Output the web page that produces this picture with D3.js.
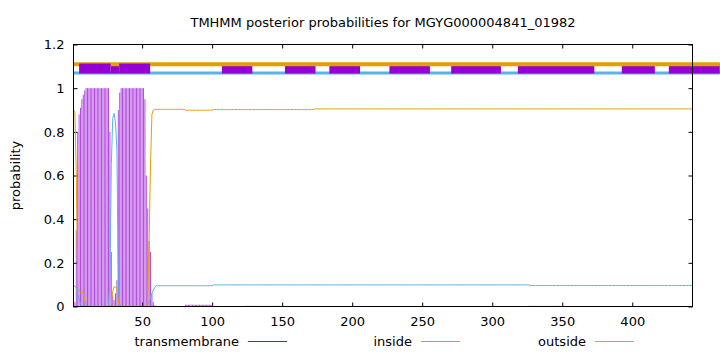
<html>
  <head>
    <meta charset="utf-8">
    <style>
      body { margin: 0; background: #fff; }
      text { font-family: "DejaVu Sans", sans-serif; font-size: 13px; fill: #000; }
      .tick line { stroke: #000; }
    </style>
    <script src="https://cdnjs.cloudflare.com/ajax/libs/d3/7.8.5/d3.min.js" type="text/javascript"></script>
  </head>
  <body>
    <script>
      var title = "TMHMM posterior probabilities for MGYG000004841_01982";
      var seqLength = 443;
      var xTicks = [50, 100, 150, 200, 250, 300, 350, 400];
      var yTicks = [0, 0.2, 0.4, 0.6, 0.8, 1, 1.2];

      // per residue values for residues 1..60
      var tmHead = [0.005, 0.02, 0.35, 0.8, 0.88, 0.91, 0.95, 0.97, 0.99, 1,
                    1, 1, 1, 1, 1, 1, 1, 1, 1, 1,
                    1, 1, 1, 1, 1, 1, 0.8, 0.25, 0.05, 0.03,
                    0.06, 0.12, 0.9, 0.98, 1, 1, 1, 1, 1, 1,
                    1, 1, 1, 1, 1, 1, 1, 1, 1, 1,
                    1, 0.95, 0.6, 0.45, 0.3, 0.25, 0.06, 0.02, 0.005, 0];
      var insideHead = [0.095, 0.093, 0.085, 0.06, 0.03, 0.01, 0.003, 0, 0, 0,
                        0, 0, 0, 0, 0, 0, 0, 0, 0, 0,
                        0, 0, 0, 0, 0, 0, 0.12, 0.65, 0.86, 0.885,
                        0.84, 0.72, 0.08, 0.01, 0, 0, 0, 0, 0, 0,
                        0, 0, 0, 0, 0, 0, 0, 0, 0, 0,
                        0, 0, 0, 0.005, 0.02, 0.04, 0.06, 0.075, 0.088, 0.095];
      var outsideHead = [0.9, 0.89, 0.6, 0.08, 0.07, 0.065, 0.065, 0.06, 0.03, 0.005,
                         0, 0, 0, 0, 0, 0, 0, 0, 0, 0,
                         0, 0, 0, 0, 0, 0, 0, 0.01, 0.07, 0.09,
                         0.09, 0.08, 0.02, 0, 0, 0, 0, 0, 0, 0,
                         0, 0, 0, 0, 0, 0, 0, 0, 0, 0,
                         0, 0, 0, 0.02, 0.3, 0.65, 0.88, 0.9, 0.903, 0.903];
      // runs for the rest: [from, to, value]
      var tmTail = [[61, 80, 0], [81, 100, 0.008], [101, 122, 0], [123, 148, 0.003],
                    [149, 326, 0], [327, 348, 0.003], [349, 443, 0]];
      var insideTail = [[61, 100, 0.095], [101, 326, 0.099], [327, 443, 0.096]];
      var outsideTail = [[61, 80, 0.903], [81, 100, 0.899], [101, 172, 0.902], [173, 443, 0.905]];

      // top tracks (residue ranges)
      var outsideTrack = [[1, 462.5]];
      var insideTrack = [[1, 462.5]];
      var tmBoxes = [[5, 27.5], [33.6, 55.7]];
      var tmDashes = [[27.5, 33.6], [107, 128.7], [152, 173.8], [183.7, 205.6], [226.6, 255.5],
                      [270.7, 306.2], [318.3, 372.9], [392.5, 416.1], [426.1, 462.5]];

      var legendItems = ["transmembrane", "inside", "outside"];
      var colors = { transmembrane: "#9400d3", inside: "#56b4e9", outside: "#e69f00" };

      function expand(head, tail) {
        var out = head.map(function(v, i) { return { pos: i + 1, v: v }; });
        tail.forEach(function(r) {
          for (var p = r[0]; p <= r[1]; p++) out.push({ pos: p, v: r[2] });
        });
        return out;
      }
      var tm = expand(tmHead, tmTail);
      var inside = expand(insideHead, insideTail);
      var outside = expand(outsideHead, outsideTail);

      var svg = d3.select("body").append("svg")
        .attr("width", 720)
        .attr("height", 352);

      var x = d3.scaleLinear().domain([1, seqLength]).range([73.5, 692.5]);
      var y = d3.scaleLinear().domain([0, 1.2]).range([306.5, 44.5]);

      // axes, ticks inward and mirrored
      svg.append("g").attr("transform", "translate(0,306.5)")
        .call(d3.axisBottom(x).tickValues(xTicks).tickSize(-4).tickPadding(10))
        .call(function(g) { g.select(".domain").remove(); });
      svg.append("g").attr("transform", "translate(0,44.5)")
        .call(d3.axisTop(x).tickValues(xTicks).tickSize(-4).tickFormat(""))
        .call(function(g) { g.select(".domain").remove(); });
      svg.append("g").attr("transform", "translate(73.5,0)")
        .call(d3.axisLeft(y).tickValues(yTicks).tickSize(-4).tickPadding(9).tickFormat(d3.format("~g")))
        .call(function(g) { g.select(".domain").remove(); });
      svg.append("g").attr("transform", "translate(692.5,0)")
        .call(d3.axisRight(y).tickValues(yTicks).tickSize(-4).tickFormat(""))
        .call(function(g) { g.select(".domain").remove(); });
      svg.selectAll(".tick text").attr("font-size", null).attr("font-family", null);

      // transmembrane impulses
      svg.append("g").selectAll("line")
        .data(tm.filter(function(d) { return d.v > 0; }))
        .enter().append("line")
        .attr("x1", function(d) { return x(d.pos); })
        .attr("x2", function(d) { return x(d.pos); })
        .attr("y1", y(0))
        .attr("y2", function(d) { return y(d.v); })
        .attr("stroke", colors.transmembrane)
        .attr("stroke-opacity", 0.7)
        .attr("stroke-width", 1);

      var line = d3.line()
        .x(function(d) { return x(d.pos); })
        .y(function(d) { return y(d.v); });
      svg.append("path").datum(inside).attr("d", line)
        .attr("fill", "none").attr("stroke", colors.inside).attr("stroke-width", 1);
      svg.append("path").datum(outside).attr("d", line)
        .attr("fill", "none").attr("stroke", colors.outside).attr("stroke-width", 1);

      // top tracks
      function track(data, level, color, width) {
        svg.append("g").selectAll("line").data(data).enter().append("line")
          .attr("x1", function(d) { return x(d[0]); })
          .attr("x2", function(d) { return x(d[1]); })
          .attr("y1", y(level)).attr("y2", y(level))
          .attr("stroke", color).attr("stroke-width", width);
      }
      track(insideTrack, 1.07, colors.inside, 3);
      track(tmDashes, 1.09, colors.transmembrane, 10);
      track(outsideTrack, 1.11, colors.outside, 4);
      track(tmBoxes, 1.09, colors.transmembrane, 10);

      // border
      svg.append("rect")
        .attr("x", 73.5).attr("y", 44.5)
        .attr("width", 619).attr("height", 262)
        .attr("fill", "none").attr("stroke", "#000");

      svg.append("text")
        .attr("x", 383).attr("y", 27)
        .attr("text-anchor", "middle")
        .text(title);

      svg.append("text")
        .attr("transform", "translate(20,175.5) rotate(-90)")
        .attr("text-anchor", "middle")
        .text("probability");

      // legend
      var legendX = [239, 412, 586];
      var legend = svg.append("g").selectAll("g")
        .data(legendItems).enter().append("g")
        .attr("transform", function(d, i) { return "translate(" + legendX[i] + ",0)"; });
      legend.append("text")
        .attr("x", 0).attr("y", 346)
        .attr("text-anchor", "end")
        .text(function(d) { return d; });
      legend.append("line")
        .attr("x1", 9).attr("x2", 48)
        .attr("y1", 341.5).attr("y2", 341.5)
        .attr("stroke", function(d) { return colors[d]; })
        .attr("stroke-width", 1);
    </script>
  </body>
</html>
